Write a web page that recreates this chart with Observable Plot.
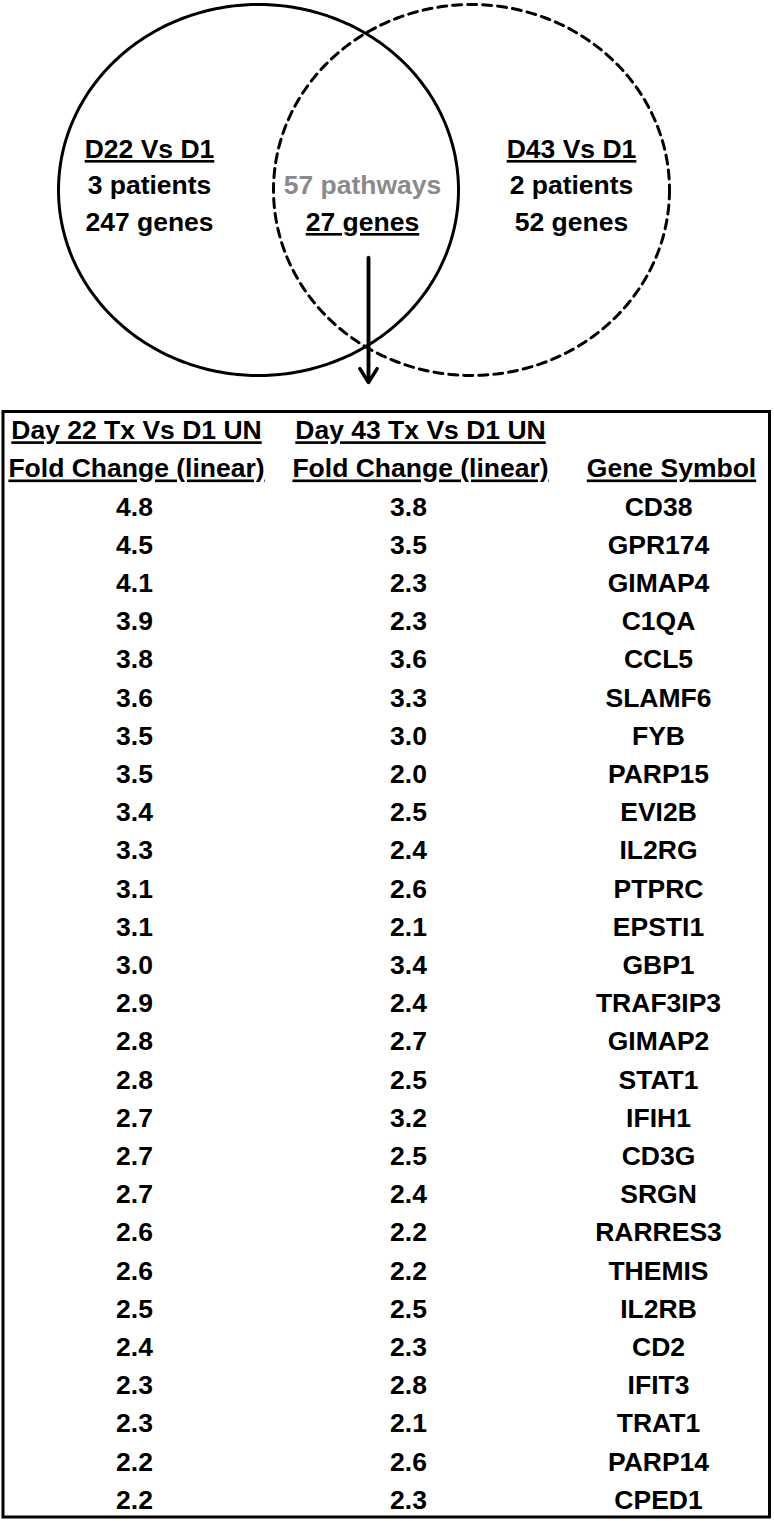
<!DOCTYPE html>
<html>
<head>
<meta charset="utf-8">
<script src="https://cdn.jsdelivr.net/npm/d3@7"></script>
<script src="https://cdn.jsdelivr.net/npm/@observablehq/plot@0.6"></script>
<style>
  html, body { margin: 0; padding: 0; background: #fff; }
  #chart { width: 774px; }
  #chart svg { display: block; }
</style>
</head>
<body>
<div id="chart"></div>
<script>
// ---------- data ----------
const genes = ["CD38","GPR174","GIMAP4","C1QA","CCL5","SLAMF6","FYB","PARP15","EVI2B","IL2RG","PTPRC","EPSTI1","GBP1","TRAF3IP3","GIMAP2","STAT1","IFIH1","CD3G","SRGN","RARRES3","THEMIS","IL2RB","CD2","IFIT3","TRAT1","PARP14","CPED1"];
const foldD22 = [4.8,4.5,4.1,3.9,3.8,3.6,3.5,3.5,3.4,3.3,3.1,3.1,3.0,2.9,2.8,2.8,2.7,2.7,2.7,2.6,2.6,2.5,2.4,2.3,2.3,2.2,2.2];
const foldD43 = [3.8,3.5,2.3,2.3,3.6,3.3,3.0,2.0,2.5,2.4,2.6,2.1,3.4,2.4,2.7,2.5,3.2,2.5,2.4,2.2,2.2,2.5,2.3,2.8,2.1,2.6,2.3];
const headerD22 = ["Day 22 Tx Vs D1 UN", "Fold Change (linear)"];
const headerD43 = ["Day 43 Tx Vs D1 UN", "Fold Change (linear)"];
const headerGene = ["Gene Symbol"];
const vennLeft = ["D22 Vs D1", "3 patients", "247 genes"];
const vennMid = ["57 pathways", "27 genes"];
const vennRight = ["D43 Vs D1", "2 patients", "52 genes"];
const underlined = new Set(["D22 Vs D1","D43 Vs D1","27 genes",
  "Day 22 Tx Vs D1 UN","Day 43 Tx Vs D1 UN","Fold Change (linear)","Gene Symbol"]);

// ---------- layout ----------
const W = 774, H1 = 390, H2 = 1131;
const FONT = "'Liberation Sans', Arial, sans-serif";
const FS = 26.5;
const textBase = {fontFamily: FONT, fontWeight: "bold", fontSize: FS, lineAnchor: "middle", textAnchor: "middle", fill: "black"};

function ellipse(cx, cy, rx, ry) {
  return d3.range(0, 361, 1).map(a => {
    const t = a * Math.PI / 180;
    return {x: cx + rx * Math.cos(t), y: cy + ry * Math.sin(t)};
  });
}
const solid = ellipse(258, 189.5, 200, 185.5);
const dashed = ellipse(471, 189.5, 198, 185.5);

const vennLines = [149, 185, 222];
const vennTexts = [
  ...vennLeft.map((t, i) => ({t, x: 149, y: vennLines[i], c: "black"})),
  ...vennMid.map((t, i) => ({t, x: 362, y: vennLines[i + 1], c: i === 0 ? "#8a8a8a" : "black"})),
  ...vennRight.map((t, i) => ({t, x: 571, y: vennLines[i], c: "black"}))
];
const arrowSpec = [{x: 368, y1: 257, y2: 382}];

const venn = Plot.plot({
  width: W, height: H1,
  margin: 0,
  x: {domain: [0, W], range: [0, W], axis: null},
  y: {domain: [0, H1], range: [0, H1], axis: null},
  style: {background: "white"},
  marks: [
    Plot.line(solid, {x: "x", y: "y", stroke: "black", strokeWidth: 3, curve: "linear"}),
    Plot.line(dashed, {x: "x", y: "y", stroke: "black", strokeWidth: 3, strokeDasharray: "9,6", curve: "linear"}),
    Plot.link(arrowSpec, {x1: "x", x2: "x", y1: "y1", y2: d => d.y2 - 3, stroke: "black", strokeWidth: 3.5}),
    Plot.arrow(arrowSpec, {x1: "x", x2: "x", y1: "y1", y2: "y2", stroke: "black", strokeWidth: 3.5, headLength: 7, headAngle: 64}),
    Plot.text(vennTexts, {...textBase, x: "x", y: "y", text: "t", fill: "c"})
  ]
});

// ---------- table ----------
const rowStep = 38.2, firstRow = 116.7; // y of first data row inside table svg
const colData = {d22: 134, d43: 408, gene: 658};
const colHead = {d22: 136, d43: 420, gene: 671};
const rows = genes.map((g, i) => ({i, gene: g, a: foldD22[i].toFixed(1), b: foldD43[i].toFixed(1)}));
const heads = [
  ...headerD22.map((t, k) => ({t, x: colHead.d22, i: k - 2})),
  ...headerD43.map((t, k) => ({t, x: colHead.d43, i: k - 2})),
  ...headerGene.map(t => ({t, x: colHead.gene, i: -1}))
];

const table = Plot.plot({
  width: W, height: H2,
  margin: 0,
  x: {domain: [0, W], range: [0, W], axis: null},
  y: {domain: [-firstRow / rowStep, (H2 - firstRow) / rowStep], range: [0, H2], axis: null},
  style: {background: "white"},
  marks: [
    Plot.frame({stroke: "black", strokeWidth: 3, insetTop: 21, insetBottom: 4.5, insetLeft: 2.5, insetRight: 5}),
    Plot.text(heads, {...textBase, x: "x", y: "i", text: "t"}),
    Plot.text(rows, {...textBase, x: () => colData.d22, y: "i", text: "a"}),
    Plot.text(rows, {...textBase, x: () => colData.d43, y: "i", text: "b"}),
    Plot.text(rows, {...textBase, x: () => colData.gene, y: "i", text: "gene"})
  ]
});

const root = document.getElementById("chart");
root.appendChild(venn);
root.appendChild(table);

// underline selected labels
d3.select(root).selectAll("text").each(function () {
  if (underlined.has(this.textContent)) this.style.textDecoration = "underline";
});
</script>
</body>
</html>
